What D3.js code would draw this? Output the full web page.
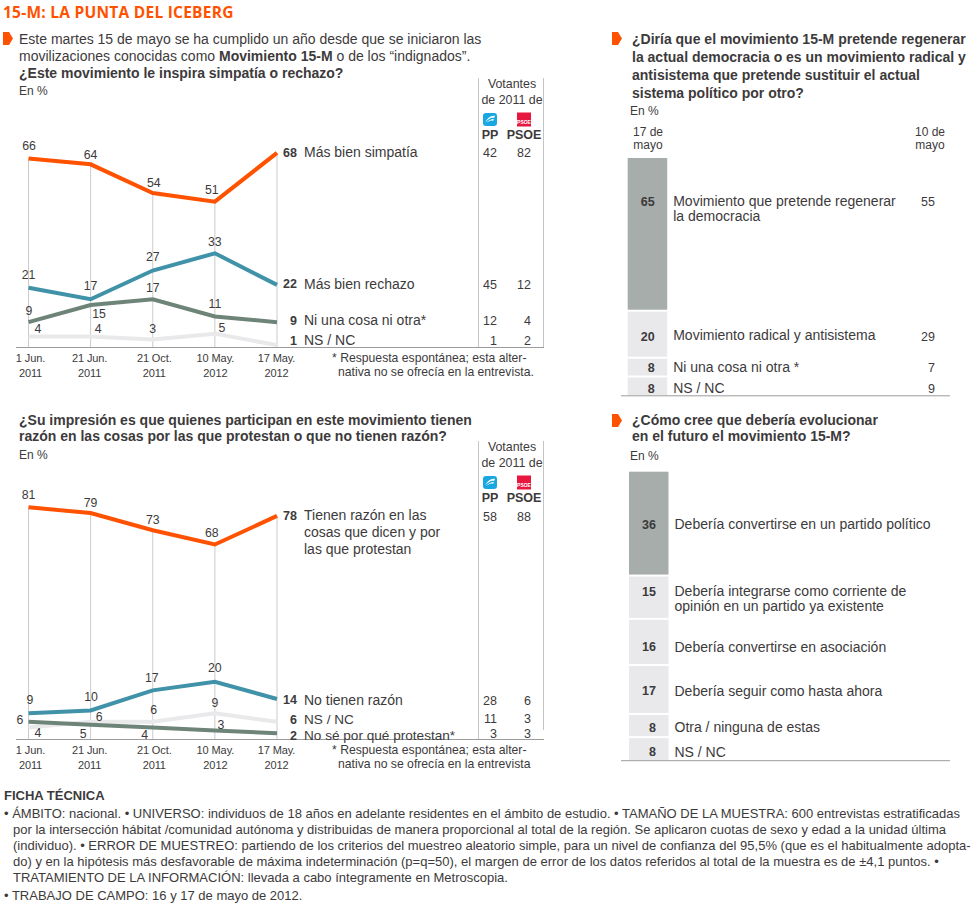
<!DOCTYPE html>
<html lang="es"><head><meta charset="utf-8">
<script src="https://cdn.jsdelivr.net/npm/d3@7/dist/d3.min.js"></script>
<style>
html,body{margin:0;padding:0;background:#fff}
svg{display:block}
text{font-family:"Liberation Sans",Arial,sans-serif;fill:#3d3a3b}
</style></head><body>
<svg id="c" width="980" height="904"></svg>
<script>
// ---------- DATA ----------
const dates = ["1 Jun.|2011","21 Jun.|2011","21 Oct.|2011","10 May.|2012","17 May.|2012"];

const simpatia = [66,64,54,51,68];
const rechazo  = [21,17,27,33,22];
const niUna    = [9,15,17,11,9];
const nsNc1    = [4,4,3,5,1];
const names1   = ["Más bien simpatía","Más bien rechazo","Ni una cosa ni otra*","NS / NC"];
const pp1      = [42,45,12,1];
const psoe1    = [82,12,4,2];

const razon    = [81,79,73,68,78];
const noRazon  = [9,10,17,20,14];
const nsNc2    = [4,6,6,9,6];
const noSe     = [6,5,4,3,2];
const names2   = ["Tienen razón en las|cosas que dicen y por|las que protestan","No tienen razón","NS / NC","No sé por qué protestan*"];
const pp2      = [58,28,11,3];
const psoe2    = [88,6,3,3];

const regenLabels = ["Movimiento que pretende regenerar|la democracia","Movimiento radical y antisistema","Ni una cosa ni otra *","NS / NC"];
const regen17  = [65,20,8,8];
const regen10  = [55,29,7,9];

const futuroLabels = ["Debería convertirse en un partido político","Debería integrarse como corriente de|opinión en un partido ya existente","Debería convertirse en asociación","Debería seguir como hasta ahora","Otra / ninguna de estas","NS / NC"];
const futuro   = [36,15,16,17,8,8];

const ficha = [
 "• ÁMBITO: nacional. • UNIVERSO: individuos de 18 años en adelante residentes en el ámbito de estudio. • TAMAÑO DE LA MUESTRA: 600 entrevistas estratificadas",
 "por la intersección hábitat /comunidad autónoma y distribuidas de manera proporcional al total de la región. Se aplicaron cuotas de sexo y edad a la unidad última",
 "(individuo). • ERROR DE MUESTREO: partiendo de los criterios del muestreo aleatorio simple, para un nivel de confianza del 95,5% (que es el habitualmente adopta-",
 "do) y en la hipótesis más desfavorable de máxima indeterminación (p=q=50), el margen de error de los datos referidos al total de la muestra es de ±4,1 puntos. •",
 "TRATAMIENTO DE LA INFORMACIÓN: llevada a cabo íntegramente en Metroscopia.",
 "• TRABAJO DE CAMPO: 16 y 17 de mayo de 2012."];

// ---------- STYLE / LAYOUT ----------
const ORANGE="#ff5200", TEAL="#4092a8", DARK="#6f8479", LIGHT="#e9e9eb";
const svg=d3.select("#c");

function txt(x,cy,s,o={}){
  const size=o.size||14;
  const t=svg.append("text").attr("x",x).attr("y",cy+size*0.36)
    .attr("font-size",size).attr("text-anchor",o.anchor||"start");
  if(o.bold)t.attr("font-weight","bold");
  if(o.ls!==undefined)t.attr("letter-spacing",o.ls);
  if(o.fill)t.style("fill",o.fill);
  if(o.family)t.style("font-family",o.family);
  if(Array.isArray(s)) s.forEach(p=>{const ts=t.append("tspan").text(p.t); if(p.b)ts.attr("font-weight","bold");});
  else t.text(s);
  return t;
}
function arrow(x,y){
  svg.append("path").attr("fill",ORANGE)
    .attr("d",`M${x},${y}h6l4,6.5l-4,6.5h-6z`);
}
function icons(cy){
  const g=svg.append("g");
  g.append("rect").attr("x",483).attr("y",cy-6).attr("width",14).attr("height",13).attr("rx",3).attr("fill","#19a7e2");
  g.append("path").attr("d",`M485,${cy+3}C488,${cy-1} 491,${cy-4} 495,${cy-3}L494,${cy-1}C491,${cy-2} 489,${cy} 485,${cy+3}z M486,${cy+4}C489,${cy+1} 491,${cy} 494,${cy}L493,${cy+2}C491,${cy+1} 489,${cy+2} 486,${cy+4}z`).attr("fill","#fff");
  g.append("rect").attr("x",517).attr("y",cy-6.5).attr("width",14).attr("height",14).attr("fill","#e8173f");
  g.append("text").attr("x",524).attr("y",cy+5).attr("text-anchor","middle").attr("font-size",5).attr("font-weight","bold").style("fill","#fff").text("PSOE");
}

const tickNudge=[1.5,-1.5,1,0,-1];
function lineChart(c){
  const x=d3.scalePoint().domain(dates).range([28.5,277]);
  const y=d3.scaleLinear().domain([0,100]).range([c.y0,c.y0-c.unit*100]);

  // party column rules
  svg.append("line").attr("x1",478.5).attr("x2",478.5).attr("y1",c.ruleTop).attr("y2",c.axisY).attr("stroke","#c4c4c4");
  svg.append("line").attr("x1",543.5).attr("x2",543.5).attr("y1",c.ruleTop).attr("y2",c.rightEnd).attr("stroke","#c4c4c4");

  // vertical guides, from the top series down to the axis
  const top=c.series[c.series.length-1].values;
  svg.append("g").selectAll("line").data(dates).join("line")
    .attr("x1",d=>x(d)).attr("x2",d=>x(d))
    .attr("y1",(d,i)=>y(top[i])).attr("y2",c.axisY)
    .attr("stroke","#cbcbcb");

  const line=d3.line().x((d,i)=>x(dates[i])).y(d=>y(d));
  svg.append("g").selectAll("path").data(c.series).join("path")
    .attr("d",s=>line(s.values)).attr("fill","none")
    .attr("stroke",s=>s.color).attr("stroke-width",4).attr("stroke-linejoin","miter");

  svg.append("line").attr("x1",16).attr("x2",544).attr("y1",c.axisY+.5).attr("y2",c.axisY+.5).attr("stroke","#9c9c9c");

  // time axis
  const ax=svg.append("g").attr("transform",`translate(0,${c.axisY})`)
    .call(d3.axisBottom(x).tickSize(0).tickPadding(0).tickFormat(d=>d.split("|")[0]));
  ax.select(".domain").remove();
  ax.selectAll(".tick text").each(function(d,i){
    const [a,b]=d.split("|"), t=d3.select(this);
    t.text(null).attr("y",0).attr("dy",null).attr("font-size",11).attr("letter-spacing",-0.1)
     .style("font-family",'"Liberation Sans",Arial,sans-serif');
    t.append("tspan").attr("x",tickNudge[i]).attr("y",15).text(a);
    t.append("tspan").attr("x",tickNudge[i]).attr("y",30).text(b);
  });

  // value labels at the points
  c.series.forEach(s=>s.values.slice(0,4).forEach((v,i)=>{
    const o=s.off[i];
    txt(x(dates[i])+o[0],y(v)+o[1],v,{anchor:"middle",size:12.3});
  }));
  // right-hand rows
  c.rows.forEach(r=>{
    txt(297,r.y,r.value,{anchor:"end",bold:true,size:12.5});
    r.name.split("|").forEach((n,i)=>txt(304,r.y+i*17,n,{size:r.size||14}));
    txt(497,r.yc,r.pp,{anchor:"end",size:12.5});
    txt(531,r.yc,r.psoe,{anchor:"end",size:12.5});
  });
  // party header
  txt(512,c.headY,"Votantes",{anchor:"middle",size:12.4});
  txt(512,c.headY+15.5,"de 2011 de",{anchor:"middle",size:12.4});
  icons(c.headY+35);
  txt(490,c.headY+50,"PP",{anchor:"middle",bold:true,size:12.5});
  txt(524,c.headY+50,"PSOE",{anchor:"middle",bold:true,size:12.5});
  // footnote
  txt(332,c.axisY+11,"* Respuesta espontánea; esta alter-",{size:12.2});
  txt(338,c.axisY+24.5,c.note,{size:12.2});
}

function barChart(c){
  const total=d3.sum(c.values);
  const y=d3.scaleLinear().domain([0,total]).range([c.top,c.bottom]);
  const cum=d3.cumsum(c.values);
  const rows=c.values.map((v,i)=>({v,i,a:i?cum[i-1]:0,b:cum[i]}));
  svg.append("g").selectAll("rect").data(rows).join("rect")
    .attr("x",c.x).attr("width",39.5)
    .attr("y",d=>y(d.a)+(d.i?1:0))
    .attr("height",d=>y(d.b)-y(d.a)-(d.i?1:0)-(d.i<rows.length-1?1:0))
    .attr("fill",d=>d.i===0?"#a6adab":LIGHT);
  svg.append("line").attr("x1",621).attr("x2",950).attr("y1",c.bottom+.5).attr("y2",c.bottom+.5).attr("stroke","#9c9c9c");
  rows.forEach(d=>{
    const cy=c.rowY[d.i];
    txt(c.x+27,cy,d.v,{anchor:"end",bold:true,size:12.5});
    c.labels[d.i].split("|").forEach((l,j)=>txt(c.x+45.5,(c.labelY?c.labelY[d.i]:cy)+j*14.5,l,{size:14}));
    if(c.prev) txt(935,cy,c.prev[d.i],{anchor:"end",size:12.5});
  });
}

// ---------- TITLE + TEXT ----------
txt(3,12,"15-M: LA PUNTA DEL ICEBERG",{bold:true,size:15.5,fill:ORANGE,family:'"Open Sans",sans-serif',ls:0.25});
arrow(3,32);
txt(19,38.5,"Este martes 15 de mayo se ha cumplido un año desde que se iniciaron las");
txt(19,55.5,[{t:"movilizaciones conocidas como "},{t:"Movimiento 15-M",b:true},{t:" o de los “indignados”."}]);
txt(19,73,"¿Este movimiento le inspira simpatía o rechazo?",{bold:true});
txt(19,91,"En %",{size:12});

lineChart({y0:348,unit:2.87,axisY:347,ruleTop:78,rightEnd:347,headY:84,
  note:"nativa no se ofrecía en la entrevista.",
  series:[
   {values:nsNc1,color:LIGHT,off:[[9.5,-8],[7.5,-8],[0,-11],[7,-6]]},
   {values:niUna,color:DARK,off:[[0.5,-12],[8.5,8.5],[0,-11.5],[0,-13]]},
   {values:rechazo,color:TEAL,off:[[0,-13.5],[0,-14],[0,-14],[0,-12]]},
   {values:simpatia,color:ORANGE,off:[[0.5,-13],[0,-10],[1,-10],[-3,-12]]}],
  rows:[
   {value:simpatia[4],name:names1[0],y:152,yc:152,pp:pp1[0],psoe:psoe1[0]},
   {value:rechazo[4],name:names1[1],y:283.5,yc:284,pp:pp1[1],psoe:psoe1[1]},
   {value:niUna[4],name:names1[2],y:320,yc:320.5,pp:pp1[2],psoe:psoe1[2]},
   {value:nsNc1[4],name:names1[3],y:340,yc:340.5,pp:pp1[3],psoe:psoe1[3]}]});

txt(19,420,"¿Su impresión es que quienes participan en este movimiento tienen",{bold:true});
txt(19,436,"razón en las cosas por las que protestan o que no tienen razón?",{bold:true});
txt(19,455,"En %",{size:12});

lineChart({y0:739,unit:2.86,axisY:739,ruleTop:441,rightEnd:730,headY:447,
  note:"nativa no se ofrecía en la entrevista",
  series:[
   {values:nsNc2,color:LIGHT,off:[[9.5,5.5],[8.5,-5.5],[1,-12.5],[0,-11]]},
   {values:noSe,color:DARK,off:[[-8.5,-2],[-7.5,8.5],[-8,7],[6,-6]]},
   {values:noRazon,color:TEAL,off:[[1.5,-14],[0.5,-13.5],[-1,-12.5],[0,-14.5]]},
   {values:razon,color:ORANGE,off:[[0,-13],[0,-10],[0,-11],[-3,-11.5]]}],
  rows:[
   {value:razon[4],name:names2[0],y:515,yc:516,pp:pp2[0],psoe:psoe2[0]},
   {value:noRazon[4],name:names2[1],y:699.5,yc:700,pp:pp2[1],psoe:psoe2[1]},
   {value:nsNc2[4],name:names2[2],y:719,yc:718,pp:pp2[2],psoe:psoe2[2],size:13.6},
   {value:noSe[4],name:names2[3],y:735,yc:733,pp:pp2[3],psoe:psoe2[3],size:13.6}]});

// ---------- RIGHT PANELS ----------
arrow(612,32);
["¿Diría que el movimiento 15-M pretende regenerar","la actual democracia o es un movimiento radical y","antisistema que pretende sustituir el actual","sistema político por otro?"]
  .forEach((l,i)=>txt(632,39+i*18,l,{bold:true}));
txt(630,111,"En %",{size:12});
txt(648,131.5,"17 de",{anchor:"middle",size:12});
txt(648,145,"mayo",{anchor:"middle",size:12});
txt(930,131.5,"10 de",{anchor:"middle",size:12});
txt(930,145,"mayo",{anchor:"middle",size:12});
barChart({x:627.7,top:158,bottom:395.3,values:regen17,prev:regen10,labels:regenLabels,
  rowY:[201.5,336,367,388],labelY:[201,335,367,388]});

arrow(612,414);
txt(632,420,"¿Cómo cree que debería evolucionar",{bold:true});
txt(632,436,"en el futuro el movimiento 15-M?",{bold:true});
txt(630,456,"En %",{size:12});
barChart({x:629,top:471.7,bottom:760.2,values:futuro,labels:futuroLabels,
  rowY:[524,591.5,646.5,690.5,727,751.5],labelY:[524,591,646.5,690.5,727,751.5]});

// ---------- FICHA ----------
txt(4,795,"FICHA TÉCNICA",{bold:true,size:13});
[813,829,845,861,877,895].forEach((cy,i)=>{
  txt((i===0||i===5)?4:13,cy,ficha[i],{size:13});
});
</script>
</body></html>
